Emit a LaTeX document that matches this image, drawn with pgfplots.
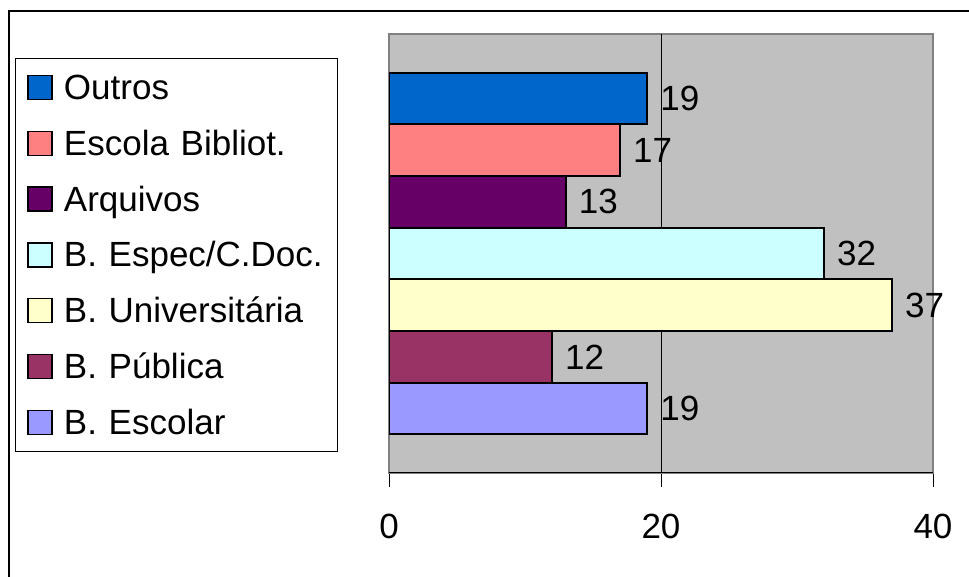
\documentclass[border=0pt]{standalone}
\usepackage{pgfplots}
\pgfplotsset{compat=1.18}
\usepackage{fontspec}
\setmainfont{Liberation Sans}
\definecolor{cOutros}{HTML}{0066CC}
\definecolor{cEscola}{HTML}{FF8080}
\definecolor{cArq}{HTML}{660066}
\definecolor{cEspec}{HTML}{CCFFFF}
\definecolor{cUniv}{HTML}{FFFFCC}
\definecolor{cPub}{HTML}{993366}
\definecolor{cEscolar}{HTML}{9999FF}
\definecolor{cBg}{HTML}{C0C0C0}
\definecolor{cBorder}{HTML}{808080}
\newcommand{\bigfont}{\fontsize{35}{42}\selectfont}
\begin{document}
\begin{tikzpicture}
\draw[black, line width=1.2pt] (9pt,0pt) -- (9pt,566pt) -- (969pt,566pt);
\begin{axis}[
  at={(389pt,104pt)}, anchor=south west,
  scale only axis, width=544pt, height=439pt,
  xmin=0, xmax=40, ymin=-0.25, ymax=8.25,
  xtick={0,20,40}, ytick=\empty,
  tick align=outside, xtick pos=bottom,
  major tick length=14pt,
  tick style={black, line width=1pt},
  extra x ticks={20}, extra x tick labels={},
  extra x tick style={grid=major, major tick length=0pt},
  grid style={black, line width=1pt},
  axis background/.style={fill=cBg},
  axis line style={draw=cBorder, line width=2pt},
  /pgf/number format/assume math mode=true,
  xticklabel style={font=\bigfont, inner sep=0pt, anchor=north, yshift=-27pt},
  point meta=x,
  nodes near coords,
  every node near coord/.append style={font=\bigfont, anchor=west, inner sep=0pt, xshift=12pt, text=black},
  every axis plot/.append style={xbar, bar width=1, bar shift=0pt, draw=black, line width=2pt},
  legend cell align=left,
  legend image code/.code={\draw[#1, line width=1.5pt] (0pt,-12pt) rectangle (24pt,12pt);},
  legend style={at={(-0.6875,0.94533)}, anchor=north west, draw=black, line width=1pt, fill=white,
     inner xsep=12pt, inner ysep=9pt, row sep=15.8pt, column sep=11pt,
     font=\bigfont,
     nodes={inner sep=0pt, text height=32pt, text depth=8pt, text width=261pt, align=left}},
]
\addplot[fill=cOutros] coordinates {(19,7)};
\addlegendentry{Outros}
\addplot[fill=cEscola] coordinates {(17,6)};
\addlegendentry{Escola Bibliot.}
\addplot[fill=cArq] coordinates {(13,5)};
\addlegendentry{Arquivos}
\addplot[fill=cEspec] coordinates {(32,4)};
\addlegendentry{B. Espec/C.Doc.}
\addplot[fill=cUniv] coordinates {(37,3)};
\addlegendentry{B. Universitária}
\addplot[fill=cPub] coordinates {(12,2)};
\addlegendentry{B. Pública}
\addplot[fill=cEscolar] coordinates {(19,1)};
\addlegendentry{B. Escolar}
\draw[black, line width=1pt] (rel axis cs:0,0) -- (rel axis cs:1,0);
\end{axis}
\pgfresetboundingbox
\useasboundingbox (0pt,0pt) rectangle (969pt,577pt);
\end{tikzpicture}
\end{document}
